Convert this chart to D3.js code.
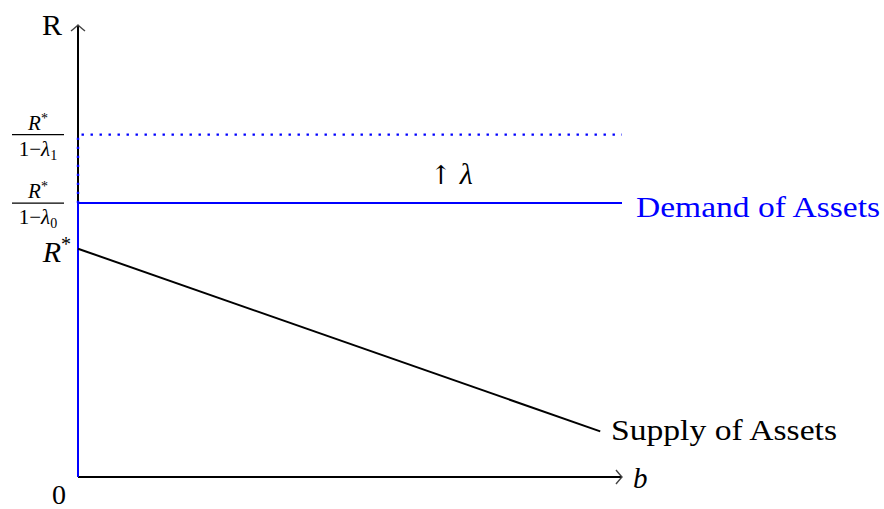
<!DOCTYPE html>
<html>
<head>
<meta charset="utf-8">
<script src="https://cdn.jsdelivr.net/npm/d3@7"></script>
<style>
  body { margin: 0; background: #fff; }
  text { font-family: "Liberation Serif", "DejaVu Serif", serif; }
</style>
</head>
<body>
<div id="chart"></div>
<script>
// values (R* normalised to 1)
const rStar = 1;
const lambdas = [1 / 6, 1 / 3];            // lambda_0, lambda_1
const supplyB = [0, 9.6];
const supplyR = [1, 0.2];
const demandEndB = 10;
const xMax = 10;
const yMax = 1.98;

const width = 884, height = 509;
const x = d3.scaleLinear().domain([0, xMax]).range([78, 622]);
const y = d3.scaleLinear().domain([0, yMax]).range([477, 25]);

const blue = "#0000ff";

const svg = d3.select("#chart").append("svg")
  .attr("width", width).attr("height", height);

const demand = lambdas.map((l) => rStar / (1 - l));

// axes
svg.append("line")
  .attr("x1", x(0)).attr("y1", y(0)).attr("x2", x(xMax)).attr("y2", y(0))
  .attr("stroke", "#000").attr("stroke-width", 2);
svg.append("line")
  .attr("x1", x(0)).attr("y1", y(0)).attr("x2", x(0)).attr("y2", y(yMax))
  .attr("stroke", "#000").attr("stroke-width", 2);

// latex style arrow heads
function arrowHead(px, py, angle) {
  svg.append("path")
    .attr("d", "M -6,-7 Q -1.5,-1.5 0,0 Q -1.5,1.5 -6,7")
    .attr("transform", `translate(${px},${py}) rotate(${angle})`)
    .attr("fill", "none").attr("stroke", "#444").attr("stroke-width", 1.4);
}
arrowHead(x(xMax), y(0), 0);
arrowHead(x(0), y(yMax), -90);

// demand: vertical blue at b=0 and horizontal at R*/(1-lambda0)
svg.append("path")
  .attr("d", d3.line()([[x(demandEndB), y(demand[0])], [x(0), y(demand[0])], [x(0), y(0)]]))
  .attr("fill", "none").attr("stroke", blue).attr("stroke-width", 2);

// shifted demand (dotted)
svg.append("path")
  .attr("d", d3.line()([[x(0), y(demand[0])], [x(0), y(demand[1])], [x(demandEndB), y(demand[1])]]))
  .attr("fill", "none").attr("stroke", blue).attr("stroke-width", 2.4)
  .attr("stroke-dasharray", "2.4 6.6");

// supply
svg.append("line")
  .attr("x1", x(supplyB[0])).attr("y1", y(supplyR[0]))
  .attr("x2", x(supplyB[1])).attr("y2", y(supplyR[1]))
  .attr("stroke", "#000").attr("stroke-width", 2);

// labels
svg.append("text").attr("x", 62).attr("y", 35).attr("text-anchor", "end")
  .attr("font-size", 30).text("R");
svg.append("text").attr("x", 59).attr("y", 504).attr("text-anchor", "middle")
  .attr("font-size", 28).text("0");
svg.append("text").attr("x", 633).attr("y", 488).attr("font-size", 29)
  .attr("font-style", "italic").text("b");

svg.append("text").attr("x", 636).attr("y", y(demand[0]) + 14)
  .attr("font-size", 29).attr("fill", blue)
  .attr("textLength", 244).attr("lengthAdjust", "spacingAndGlyphs")
  .text("Demand of Assets");
svg.append("text").attr("x", 611).attr("y", y(supplyR[1]) + 9)
  .attr("font-size", 29)
  .attr("textLength", 226).attr("lengthAdjust", "spacingAndGlyphs")
  .text("Supply of Assets");

const shift = svg.append("text").attr("x", 430).attr("y", 184).attr("font-size", 28);
shift.append("tspan").attr("font-family", "DejaVu Serif").attr("font-size", 26).text("↑");
shift.append("tspan").attr("dx", 8).attr("font-style", "italic").attr("font-size", 30).text("λ");

// R* tick label
const rs = svg.append("text").attr("x", 71).attr("y", y(rStar) + 13)
  .attr("text-anchor", "end").attr("font-size", 30);
rs.append("tspan").attr("font-style", "italic").text("R");
rs.append("tspan").attr("dy", -11).attr("font-size", 20).text("*");

// fraction tick labels
demand.forEach((d, i) => {
  const cy = y(d);
  const cx = 38;
  svg.append("line").attr("x1", 12).attr("x2", 64).attr("y1", cy).attr("y2", cy)
    .attr("stroke", "#000").attr("stroke-width", 1.2);
  const num = svg.append("text").attr("x", cx).attr("y", cy - 5)
    .attr("text-anchor", "middle").attr("font-size", 21);
  num.append("tspan").attr("font-style", "italic").text("R");
  num.append("tspan").attr("dy", -7).attr("font-size", 14).text("*");
  const den = svg.append("text").attr("x", cx).attr("y", cy + 21)
    .attr("text-anchor", "middle").attr("font-size", 21);
  den.append("tspan").text("1−");
  den.append("tspan").attr("font-style", "italic").text("λ");
  den.append("tspan").attr("dy", 4).attr("font-size", 14).text(String(i));
});
</script>
</body>
</html>
